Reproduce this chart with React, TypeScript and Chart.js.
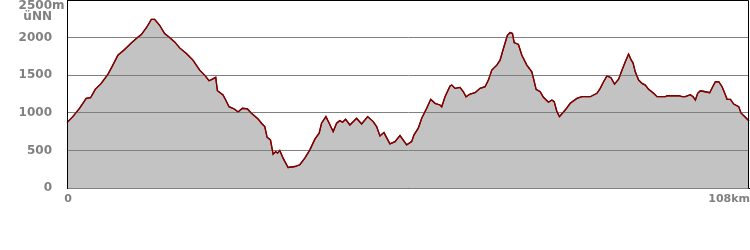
import { useEffect, useRef } from "react";
import { Chart, registerables } from "chart.js";

Chart.register(...registerables);

const distanceKm = [
  0, 0.92, 1.98, 3.04, 3.73, 4.47, 5.42, 6.47, 7.26, 8.06, 9.12, 10.18, 10.97, 11.77, 12.65, 13.35, 13.88,
  14.67, 15.46, 16.25, 17.05, 17.84, 18.9, 19.95, 21.01, 21.8, 22.49, 23.03, 23.55, 23.82, 24.71, 25.13,
  25.66, 26.56, 27.09, 27.78, 28.58, 29.21, 30.26, 30.8, 31.32, 31.68, 32.22, 32.64, 33.06, 33.33, 33.7,
  34.22, 35.01, 36.08, 36.87, 37.66, 38.46, 39.25, 39.93, 40.31, 41.0, 41.52, 42.15, 42.69, 43.21, 43.64,
  44.12, 44.8, 45.86, 46.65, 47.61, 48.49, 49.03, 49.56, 50.19, 51.14, 51.94, 52.73, 53.79, 54.58, 54.95,
  55.63, 56.17, 56.96, 57.6, 58.28, 59.07, 59.34, 59.86, 60.66, 60.93, 61.45, 62.24, 62.77, 63.19, 63.83,
  64.62, 65.41, 66.21, 66.73, 67.27, 68.06, 68.58, 69.11, 69.74, 70.17, 70.54, 70.81, 71.49, 72.03, 72.82,
  73.61, 73.87, 74.29, 74.93, 75.45, 76.24, 76.78, 77.15, 77.58, 77.99, 78.89, 79.69, 80.75, 81.54, 82.86,
  83.92, 84.44, 84.97, 85.51, 86.14, 86.71, 87.35, 87.88, 88.41, 88.93, 89.36, 89.63, 89.99, 90.52, 91.06,
  91.58, 92.1, 92.9, 93.44, 94.75, 95.02, 96.86, 97.4, 97.92, 98.71, 99.14, 99.51, 99.87, 100.3, 101.09,
  101.77, 102.25, 102.68, 103.2, 103.74, 104.27, 104.53, 105.06, 105.58, 106.37, 106.75, 107.43, 108,
];

const elevationM = [
  869, 949, 1060, 1192, 1200, 1312, 1391, 1510, 1634, 1766, 1842, 1929, 1988, 2041, 2141, 2243, 2243,
  2164, 2054, 2001, 1943, 1863, 1789, 1700, 1567, 1501, 1426, 1448, 1471, 1293, 1236, 1170,
  1081, 1047, 1011, 1060, 1051, 994, 918, 861, 816, 676, 640, 450, 485, 464, 498,
  397, 273, 286, 309, 397, 507, 649, 729, 861, 949, 861, 750, 861, 896, 875,
  914, 839, 927, 852, 949, 883, 816, 693, 737, 587, 617, 697, 574, 617, 706,
  795, 927, 1060, 1179, 1126, 1104, 1081, 1214, 1356, 1369, 1325, 1338, 1280, 1214, 1250,
  1267, 1325, 1347, 1435, 1567, 1634, 1700, 1855, 2031, 2067, 2054, 1935, 1908, 1766, 1634,
  1545, 1457, 1312, 1280, 1206, 1140, 1170, 1148, 1015, 949, 1037, 1126, 1192, 1214, 1214,
  1259, 1325, 1413, 1492, 1466, 1382, 1448, 1567, 1678, 1780, 1700, 1664, 1545, 1435, 1391,
  1369, 1312, 1259, 1214, 1214, 1227, 1227, 1214, 1214, 1240, 1214, 1170, 1259, 1293, 1280,
  1267, 1347, 1413, 1413, 1347, 1236, 1179, 1179, 1117, 1081, 994, 941, 892,
];

const X_MIN = 0;
const X_MAX = 108;
const Y_MAX = 2500;
const Y_STEP = 500;
const yTopLabelValue = "2500";
const yTopLabelUnit = "m";
const yTopLabelDatum = "üNN";
const xStartLabel = "0";
const xEndLabel = "108km";

const LABEL_COLOR = "#808080";
const FONT_FAMILY = "'DejaVu Sans', Verdana, sans-serif";

const framePlugin = {
  id: "frameAndLabels",
  afterDraw(chart: any) {
    const { ctx, chartArea: a, scales } = chart;
    ctx.save();
    // profile line above the grid lines
    const meta = chart.getDatasetMeta(0);
    if (meta && meta.dataset) meta.dataset.draw(ctx, a);

    const left = Math.round(a.left);
    const top = Math.round(a.top);
    const right = Math.round(a.right);
    const bottom = Math.round(a.bottom);
    ctx.strokeStyle = "#000";
    ctx.lineWidth = 1;
    ctx.beginPath();
    ctx.moveTo(left + 0.5, bottom + 0.5);
    ctx.lineTo(left + 0.5, top + 0.5);
    ctx.lineTo(right - 0.5, top + 0.5);
    ctx.lineTo(right - 0.5, bottom + 0.5);
    ctx.stroke();

    const yScale = scales.y;
    const xScale = scales.x;
    const labelX = left - 15;
    const yTop = yScale.getPixelForValue(Y_MAX);
    ctx.fillStyle = LABEL_COLOR;
    ctx.font = `bold 12px ${FONT_FAMILY}`;
    ctx.textBaseline = "middle";
    ctx.textAlign = "right";
    ctx.fillText(yTopLabelValue, labelX, yTop + 5.5);
    ctx.textAlign = "left";
    ctx.fillText(yTopLabelUnit, labelX, yTop + 5.5);
    ctx.textAlign = "right";
    ctx.fillText(yTopLabelDatum, labelX, yTop + 16.5);

    ctx.font = `bold 11px ${FONT_FAMILY}`;
    const xy = bottom + 11.5;
    ctx.textAlign = "center";
    ctx.fillText(xStartLabel, xScale.getPixelForValue(X_MIN) + 1, xy);
    ctx.textAlign = "right";
    ctx.fillText(xEndLabel, xScale.getPixelForValue(X_MAX) + 1, xy);
    ctx.restore();
  },
};

export default function App() {
  const canvasRef = useRef<HTMLCanvasElement | null>(null);

  useEffect(() => {
    const canvas = canvasRef.current;
    if (!canvas) return;
    const points = distanceKm.map((d, i) => ({ x: d, y: elevationM[i] }));
    const chart = new Chart(canvas, {
      type: "line",
      data: {
        datasets: [
          {
            data: points,
            borderColor: "#800000",
            borderWidth: 1.3,
            backgroundColor: "#c3c3c3",
            fill: "origin",
            pointRadius: 0,
            tension: 0,
          },
        ],
      },
      options: {
        responsive: false,
        animation: false,
        devicePixelRatio: 1,
        layout: { padding: { top: 0, right: 1, bottom: 0, left: 0 } },
        plugins: {
          legend: { display: false },
          tooltip: { enabled: false },
        },
        events: [],
        scales: {
          x: {
            type: "linear",
            min: X_MIN,
            max: X_MAX,
            grid: { display: false },
            border: { display: true, color: "#000", width: 1 },
            ticks: { display: false },
            afterFit: (scale: any) => {
              scale.height = 62;
              scale.paddingLeft = 0;
              scale.paddingRight = 0;
              scale.paddingTop = 0;
              scale.paddingBottom = 0;
            },
          },
          y: {
            type: "linear",
            min: 0,
            max: Y_MAX,
            grid: { color: "#808080", lineWidth: 1, drawTicks: false, z: 1 },
            border: { display: true, color: "#000", width: 1, z: 2 },
            ticks: {
              stepSize: Y_STEP,
              padding: 15,
              color: LABEL_COLOR,
              font: { family: FONT_FAMILY, weight: "bold", size: 12 },
              callback: (v: any) => (v === Y_MAX ? null : String(v)),
            },
            afterFit: (scale: any) => {
              scale.width = 67;
              scale.paddingTop = 0;
              scale.paddingBottom = 0;
              scale.paddingLeft = 0;
              scale.paddingRight = 0;
            },
          },
        },
      },
      plugins: [framePlugin],
    });
    return () => chart.destroy();
  }, []);

  return (
    <div style={{ position: "absolute", left: 0, top: 0, width: 750, height: 250, background: "#fff" }}>
      <canvas ref={canvasRef} width={750} height={250} style={{ display: "block" }} />
    </div>
  );
}
